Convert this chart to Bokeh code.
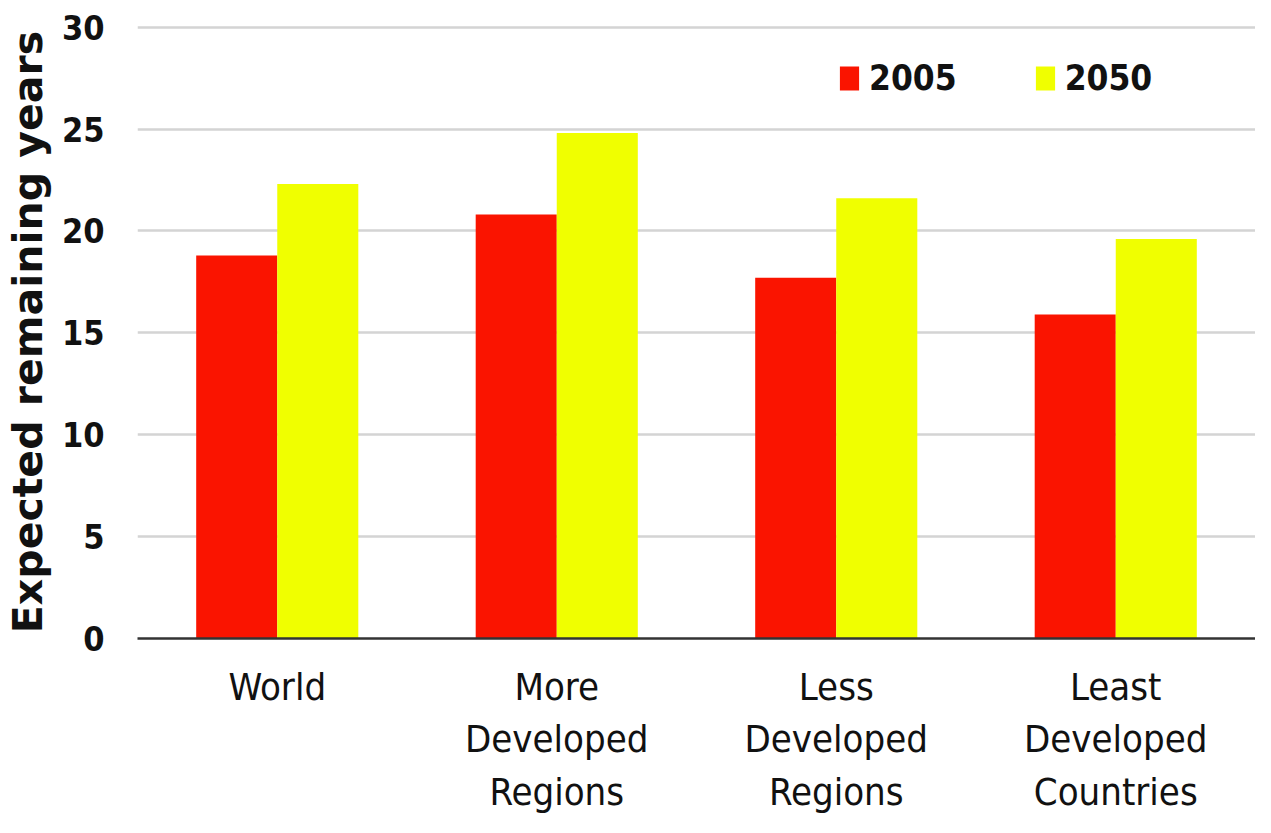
from bokeh.plotting import figure
from bokeh.models import FactorRange, Legend, LegendItem, ColumnDataSource, FixedTicker, Range1d
from bokeh.transform import dodge
from bokeh.embed import file_html
from bokeh.resources import INLINE

categories = ["World", "More\nDeveloped\nRegions", "Less\nDeveloped\nRegions", "Least\nDeveloped\nCountries"]
series_names = ["2005", "2050"]
values_2005 = [18.8, 20.8, 17.7, 15.9]
values_2050 = [22.3, 24.8, 21.6, 19.6]
y_ticks = [0, 5, 10, 15, 20, 25, 30]
colors = ["#FA1400", "#F0FF00"]

FONT = "DejaVu Sans Condensed"

source = ColumnDataSource(dict(cat=categories, v2005=values_2005, v2050=values_2050))

p = figure(width=1255, height=817, output_backend="svg", toolbar_location=None,
           x_range=FactorRange(*categories, range_padding=0), y_range=Range1d(0, 30.08),
           min_border_left=119, min_border_top=25, min_border_right=0, min_border_bottom=170)
p.outline_line_color = None

bw = 0.29
r1 = p.vbar(x=dodge("cat", -bw / 2, range=p.x_range), top="v2005", width=bw, source=source,
            fill_color=colors[0], line_color=None)
r2 = p.vbar(x=dodge("cat", bw / 2, range=p.x_range), top="v2050", width=bw, source=source,
            fill_color=colors[1], line_color=None)

# grid
p.xgrid.grid_line_color = None
p.ygrid.grid_line_color = "#d4d4d4"
p.ygrid.grid_line_width = 2.5
p.ygrid.ticker = FixedTicker(ticks=y_ticks[1:])

# y axis
p.yaxis.ticker = FixedTicker(ticks=y_ticks)
p.yaxis.axis_line_color = None
p.yaxis.major_tick_line_color = None
p.yaxis.minor_tick_line_color = None
p.yaxis.major_label_text_font = FONT
p.yaxis.major_label_text_font_style = "bold"
p.yaxis.major_label_text_font_size = "34px"
p.yaxis.major_label_text_color = "#111111"
p.yaxis.major_label_standoff = 27
p.yaxis.axis_label = "Expected remaining years"
p.yaxis.axis_label_text_font = "DejaVu Sans"
p.yaxis.axis_label_text_font_style = "bold"
p.yaxis.axis_label_text_font_size = "41px"
p.yaxis.axis_label_text_color = "#111111"
p.yaxis.axis_label_standoff = 7

# x axis
p.xaxis.axis_line_color = "#333333"
p.xaxis.axis_line_width = 2.5
p.xaxis.major_tick_line_color = None
p.xaxis.minor_tick_line_color = None
p.xaxis.major_label_text_font = FONT
p.xaxis.major_label_text_font_size = "38px"
p.xaxis.major_label_text_color = "#111111"
p.xaxis.major_label_standoff = 20

legend = Legend(items=[LegendItem(label=series_names[0], renderers=[r1]),
                       LegendItem(label=series_names[1], renderers=[r2])],
                orientation="horizontal", location=(700, 540),
                background_fill_alpha=0, border_line_color=None,
                glyph_width=24, glyph_height=30, label_standoff=8, spacing=76,
                padding=4, margin=0, label_height=30,
                label_text_font=FONT, label_text_font_style="bold",
                label_text_font_size="35px", label_text_baseline="middle",
                label_text_color="#111111")
p.add_layout(legend)

open("out.html", "w").write(file_html(p, INLINE))
